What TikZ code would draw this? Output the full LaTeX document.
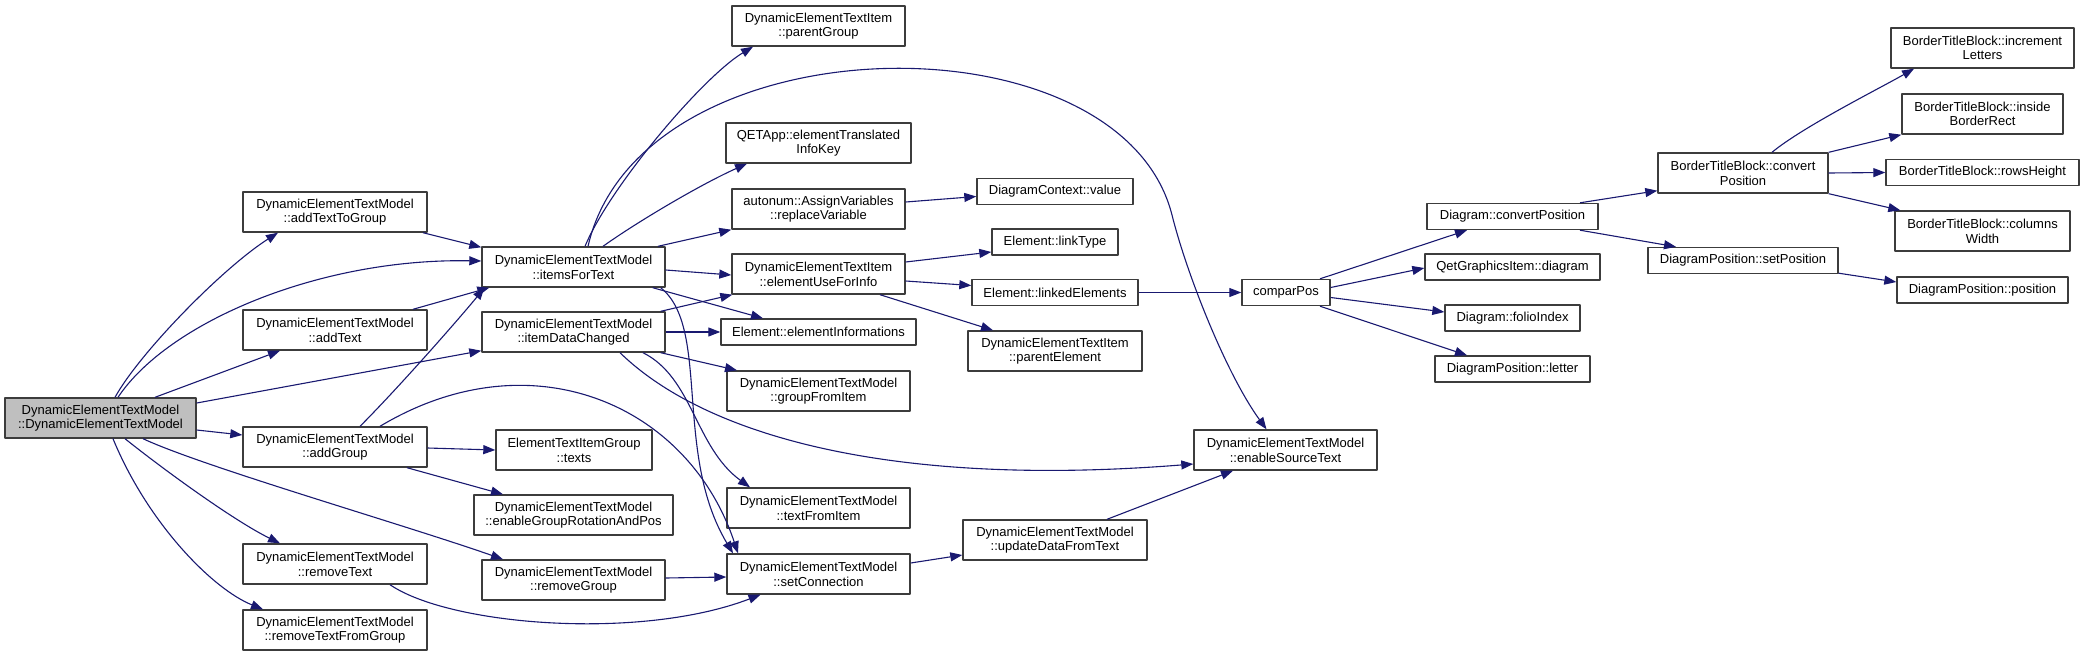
\documentclass[tikz,border=0pt]{standalone}
\usepackage{fontspec}
\setmainfont{Liberation Sans}
\usetikzlibrary{arrows.meta}
\definecolor{callblue}{RGB}{25,25,112}
\definecolor{boxline}{RGB}{60,60,60}
\begin{document}
\begin{tikzpicture}[x=1pt, y=-1pt, >={Triangle[length=12pt,width=9pt]}, line join=round,
    fn/.style={draw=boxline, line width=1.4pt, fill=white, inner sep=0pt, minimum height=40pt,
      align=center, font=\fontsize{13}{14.7}\selectfont},
    fnone/.style={fn, minimum height=26pt},
    call/.style={->, color=callblue, line width=1.1pt}]
  \useasboundingbox (0,0) rectangle (2084,656);
  % functions
  \node[fn, fill=gray!50, minimum width=191pt] (root) at (100.5,418) {DynamicElementTextModel\\::DynamicElementTextModel};
  \node[fn, minimum width=184pt] (addTG) at (335,212) {DynamicElementTextModel\\::addTextToGroup};
  \node[fn, minimum width=184pt] (addT) at (335,330) {DynamicElementTextModel\\::addText};
  \node[fn, minimum width=184pt] (addG) at (335,447) {DynamicElementTextModel\\::addGroup};
  \node[fn, minimum width=184pt] (rmT) at (335,564) {DynamicElementTextModel\\::removeText};
  \node[fn, minimum width=184pt] (rmTFG) at (335,630) {DynamicElementTextModel\\::removeTextFromGroup};
  \node[fn, minimum width=183pt] (items) at (573.5,267) {DynamicElementTextModel\\::itemsForText};
  \node[fn, minimum width=183pt] (idc) at (573.5,332) {DynamicElementTextModel\\::itemDataChanged};
  \node[fn, minimum width=156pt] (texts) at (574,450) {ElementTextItemGroup\\::texts};
  \node[fn, minimum width=199pt] (eGRAP) at (573.5,515) {DynamicElementTextModel\\::enableGroupRotationAndPos};
  \node[fn, minimum width=183pt] (rmG) at (573.5,580) {DynamicElementTextModel\\::removeGroup};
  \node[fn, minimum width=173pt] (pG) at (818.5,26) {DynamicElementTextItem\\::parentGroup};
  \node[fn, minimum width=185pt] (QET) at (818.5,143) {QETApp::elementTranslated\\InfoKey};
  \node[fn, minimum width=173pt] (autonum) at (818.5,209) {autonum::AssignVariables\\::replaceVariable};
  \node[fn, minimum width=173pt] (eUFI) at (818.5,274) {DynamicElementTextItem\\::elementUseForInfo};
  \node[fnone, minimum width=195pt] (eInf) at (818.5,332) {Element::elementInformations};
  \node[fn, minimum width=183pt] (gFI) at (818.5,391) {DynamicElementTextModel\\::groupFromItem};
  \node[fn, minimum width=183pt] (tFI) at (818.5,508) {DynamicElementTextModel\\::textFromItem};
  \node[fn, minimum width=183pt] (setC) at (818.5,574) {DynamicElementTextModel\\::setConnection};
  \node[fnone, minimum width=156pt] (DCv) at (1055,191.5) {DiagramContext::value};
  \node[fnone, minimum width=126pt] (lT) at (1055,242) {Element::linkType};
  \node[fnone, minimum width=166pt] (lE) at (1055,292.5) {Element::linkedElements};
  \node[fn, minimum width=174pt] (pE) at (1055,351) {DynamicElementTextItem\\::parentElement};
  \node[fn, minimum width=184pt] (uDFT) at (1055,540) {DynamicElementTextModel\\::updateDataFromText};
  \node[fnone, minimum width=88pt] (cP) at (1286,292.5) {comparPos};
  \node[fn, minimum width=183pt] (eST) at (1285.5,450) {DynamicElementTextModel\\::enableSourceText};
  \node[fnone, minimum width=171pt] (DcP) at (1512.5,216.5) {Diagram::convertPosition};
  \node[fnone, minimum width=175pt] (QGI) at (1512.5,267) {QetGraphicsItem::diagram};
  \node[fnone, minimum width=135pt] (fI) at (1512.5,318) {Diagram::folioIndex};
  \node[fnone, minimum width=155pt] (let) at (1512.5,369) {DiagramPosition::letter};
  \node[fn, minimum width=170pt] (BcP) at (1743,173) {BorderTitleBlock::convert\\Position};
  \node[fnone, minimum width=190pt] (sP) at (1743,260.5) {DiagramPosition::setPosition};
  \node[fn, minimum width=183pt] (iL) at (1982.5,48) {BorderTitleBlock::increment\\Letters};
  \node[fn, minimum width=161pt] (iBR) at (1982.5,114) {BorderTitleBlock::inside\\BorderRect};
  \node[fnone, minimum width=193pt] (rH) at (1982.5,172.5) {BorderTitleBlock::rowsHeight};
  \node[fn, minimum width=175pt] (cW) at (1982.5,231) {BorderTitleBlock::columns\\Width};
  \node[fnone, minimum width=171pt] (pos) at (1982.5,290) {DiagramPosition::position};
  \coordinate (eSTbend) at (1172,215);
  % calls
  \draw[call] ([xshift=14.5]root.north) .. controls +(25,-45) and +(-55,35) .. ([xshift=-57]addTG.south);
  \draw[call] ([xshift=17.5]root.north) .. controls +(50,-75) and +(-162,-3) .. ([yshift=6]items.west);
  \draw[call] ([xshift=54.5]root.north) -- ([xshift=-55]addT.south);
  \draw[call] ([yshift=15]root.east) -- ([yshift=2]idc.south west);
  \draw[call] ([yshift=-12]root.east) -- ([yshift=12]addG.west);
  \draw[call] ([xshift=42.5]root.south) .. controls +(60,28) and +(-100,-35) .. ([xshift=-70.5]rmG.north);
  \draw[call] ([xshift=24.5]root.south) .. controls +(40,32) and +(-45,-22) .. ([xshift=-55]rmT.north);
  \draw[call] ([xshift=12.5]root.south) .. controls +(35,85) and +(-50,-20) .. ([xshift=-72]rmTFG.north);
  \draw[call] ([xshift=88]addTG.south) -- ([yshift=-1]items.north west);
  \draw[call] ([xshift=78]addT.north) -- ([xshift=8]items.south west);
  \draw[call] ([xshift=25]addG.north) .. controls +(40,-40) and +(-20,25) .. ([xshift=3]items.south west);
  \draw[call] ([xshift=45]addG.north) .. controls +(150,-90) and +(-50,-150) .. ([xshift=-80.5]setC.north);
  \draw[call] ([yshift=-1]addG.east) -- (texts.west);
  \draw[call] ([xshift=72]addG.south) -- ([xshift=-70.5]eGRAP.north);
  \draw[call] ([xshift=55]rmT.south) .. controls +(60,41) and +(-120,46) .. ([xshift=-58]setC.south);
  \draw[call] ([yshift=2]rmG.east) -- ([yshift=-3]setC.west);
  \draw[call] ([xshift=11.5]items.north) .. controls +(25,-60) and +(-50,30) .. ([xshift=-65.5]pG.south);
  \draw[call] ([xshift=14.5]items.north) .. controls +(52,-227) and +(-52,-205) .. (eSTbend)
    .. controls +(15,60) and +(-40,-55) .. ([xshift=-19]eST.north);
  \draw[call] ([xshift=29.5]items.north) .. controls +(35,-25) and +(-45,20) .. ([xshift=-71.5]QET.south);
  \draw[call] ([xshift=84.5]items.north) -- (autonum.south west);
  \draw[call] ([yshift=-3]items.east) -- ([yshift=-1]eUFI.west);
  \draw[call] ([xshift=-13]items.south east) -- ([xshift=-55.5]eInf.north);
  \draw[call] ([xshift=-5]items.south east) .. controls +(50,40) and +(-60,-100) .. ([xshift=-85.5]setC.north);
  \draw[call] ([xshift=-5]idc.north east) -- ([xshift=1]eUFI.south west);
  \draw[call] (idc.east) -- (eInf.west);
  \draw[call] ([xshift=-5]idc.south east) -- ([xshift=-81.5]gFI.north);
  \draw[call] ([xshift=46.5]idc.south) .. controls +(80,78) and +(-315,25) .. ([yshift=-14]eST.west);
  \draw[call] ([xshift=69.5]idc.south) .. controls +(50,25) and +(-55,-40) .. ([xshift=-68.5]tFI.north);
  \draw[call] ([yshift=7]autonum.east) -- ([yshift=-5]DCv.west);
  \draw[call] ([yshift=12]eUFI.east) -- ([yshift=-10]lT.west);
  \draw[call] ([yshift=-7]eUFI.east) -- ([yshift=7]lE.west);
  \draw[call] ([xshift=61.5]eUFI.south) -- ([xshift=-62]pE.north);
  \draw[call] (lE.east) -- (cP.west);
  \draw[call] ([xshift=34]cP.north) -- ([xshift=-45.5]DcP.south);
  \draw[call] ([yshift=5]cP.east) -- ([yshift=-1]QGI.west);
  \draw[call] ([yshift=-5]cP.east) -- ([yshift=6]fI.west);
  \draw[call] ([xshift=34]cP.south) -- ([xshift=-45.5]let.north);
  \draw[call] ([xshift=67.5]DcP.north) -- ([yshift=3]BcP.south west);
  \draw[call] ([xshift=67.5]DcP.south) -- ([xshift=-67]sP.north);
  \draw[call] ([xshift=29]BcP.north) .. controls +(30,-25) and +(-35,20) .. ([xshift=-68.5]iL.south);
  \draw[call] (BcP.north east) -- (iBR.south west);
  \draw[call] (BcP.east) -- (rH.west);
  \draw[call] (BcP.south east) -- ([xshift=6]cW.north west);
  \draw[call] ([yshift=1]sP.south east) -- ([yshift=8]pos.west);
  \draw[call] ([yshift=11]setC.east) -- ([yshift=-15]uDFT.west);
  \draw[call] ([xshift=52]uDFT.north) -- ([xshift=-52.5]eST.south);
\end{tikzpicture}
\end{document}
